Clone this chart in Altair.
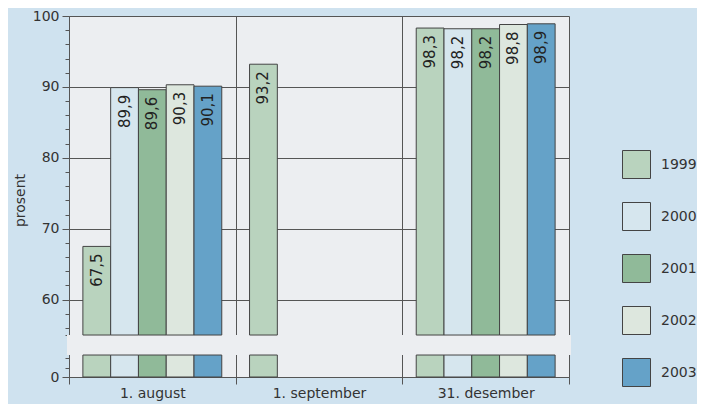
import altair as alt
import pandas as pd

# ---- data ----
groups = ["1. august", "1. september", "31. desember"]
years = ["1999", "2000", "2001", "2002", "2003"]
aug_values = [67.5, 89.9, 89.6, 90.3, 90.1]
sep_values = [93.2]  # only 1999 reported
dec_values = [98.3, 98.2, 98.2, 98.8, 98.9]
colors = ["#B9D3BE", "#D6E6EE", "#90BA99", "#DDE7DE", "#65A2C8"]

rows = []
for g, vals in zip(groups, [aug_values, sep_values, dec_values]):
    for yr, v in zip(years, vals):
        rows.append({"group": g, "year": yr, "value": v,
                     "label": f"{v:.1f}".replace(".", ",")})
df = pd.DataFrame(rows)

# ---- broken-axis mapping (virtual y units) ----
BREAK_LOW = 55.0      # real value at the bottom of the upper section
LOW_TOP = 3.10        # top of the lower stub section
BREAK_TOP = 5.92      # where the upper section starts
OFFSET = round(BREAK_LOW - BREAK_TOP, 4)
DOMAIN_MAX = round(100 - OFFSET, 4)

FONT = "DejaVu Sans"
LINE = "#555555"
TXT = "#333333"

tick_values = [0, 1.27, 2.68] + [round(r - OFFSET, 4) for r in range(55, 101)
                                 if r == 55 or r % 2 == 0]
is_major = (f"(datum.value < 0.01 || (datum.value > 5 && "
            f"round(datum.value + {OFFSET}) % 10 == 0))")
label_expr = (f"datum.value < 0.01 ? '0' : ({is_major} ? '' + "
              f"round(datum.value + {OFFSET}) : '')")

yscale = alt.Scale(domain=[0, DOMAIN_MAX], nice=False, zero=True)
xscale = alt.Scale(paddingInner=0, paddingOuter=0)
xoff = alt.XOffset("year:N", scale=alt.Scale(paddingInner=0, paddingOuter=0.5))
cscale = alt.Scale(domain=years, range=colors)

x_axis = alt.Axis(tickBand="extent", grid=True, gridColor=LINE,
                  domainColor=LINE, tickColor=LINE, tickSize=7,
                  labelFontSize=14, labelFont=FONT, labelColor=TXT,
                  labelPadding=2, labelAngle=0)

y_axis = alt.Axis(title="prosent", values=tick_values, labelExpr=label_expr,
                  tickSize={"condition": {"test": is_major, "value": 7}, "value": 4},
                  gridOpacity={"condition": {"test": is_major, "value": 1}, "value": 0},
                  grid=True, gridColor=LINE, domainColor=LINE, tickColor=LINE,
                  labelFontSize=14, labelFont=FONT, labelColor=TXT,
                  labelPadding=3, labelOverlap=False,
                  titleFontSize=14, titleFont=FONT, titleColor=TXT,
                  titleFontWeight="normal", titleX=-49, titleY=184,
                  titleAngle=270, titleAlign="center", titleBaseline="middle")


def xenc():
    return alt.X("group:N", sort=groups, scale=xscale, title=None, axis=x_axis)


base = alt.Chart(df).transform_calculate(
    v=f"datum.value - {OFFSET}",
    low=f"{LOW_TOP}",
)

band = alt.Chart(pd.DataFrame({"k": [0]})).mark_rect(
    fill="#ECEEF1", stroke=None
).encode(
    x=alt.value(-2), x2=alt.value(502),
    y=alt.YDatum(LOW_TOP, type="quantitative", scale=yscale, axis=y_axis,
                 title="prosent"),
    y2=alt.datum(BREAK_TOP),
)

upper = base.mark_bar(stroke="#444444", strokeWidth=1).encode(
    x=xenc(),
    xOffset=xoff,
    y=alt.Y("v:Q", scale=yscale, axis=y_axis, title="prosent"),
    y2=alt.datum(BREAK_TOP),
    color=alt.Color("year:N", scale=cscale,
                    legend=alt.Legend(orient="none", legendX=553, legendY=134,
                                      title=None, symbolType="square",
                                      symbolSize=784, symbolStrokeColor="#444444",
                                      symbolStrokeWidth=1, labelFontSize=14,
                                      labelFont=FONT, labelColor=TXT,
                                      labelOffset=10, rowPadding=19, padding=0)),
)

lower = base.mark_bar(stroke="#444444", strokeWidth=1).encode(
    x=xenc(),
    xOffset=xoff,
    y=alt.Y("low:Q", scale=yscale, axis=y_axis, title="prosent"),
    y2=alt.datum(0),
    color=alt.Color("year:N", scale=cscale, legend=None),
)

labels = base.mark_text(angle=270, align="right", baseline="middle", dx=-7,
                        fontSize=15, font=FONT, color="#222222").encode(
    x=xenc(),
    xOffset=xoff,
    y=alt.Y("v:Q", scale=yscale, axis=y_axis, title="prosent"),
    text="label:N",
)

chart = alt.layer(band, upper, lower, labels).properties(
    width=500, height=361,
    background="#CFE2EF",
    padding={"left": 61, "top": 8, "right": 128, "bottom": 27},
    autosize=alt.AutoSizeParams(type="none"),
).configure_view(stroke=None, fill="#ECEEF1")

chart.save("out.html", embed_options={"renderer": "svg", "actions": False})
